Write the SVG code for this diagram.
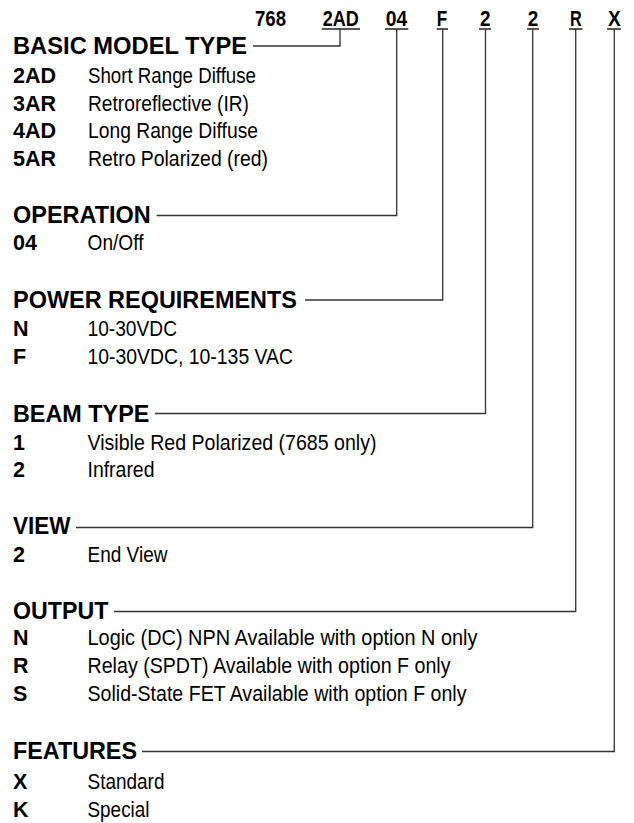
<svg xmlns="http://www.w3.org/2000/svg" width="634" height="823" viewBox="0 0 634 823">
<style>
text{font-family:"Liberation Sans",Arial,sans-serif;fill:#000}
.code{font-weight:bold;font-size:22.5px}
.hdr{font-weight:bold;font-size:23px}
.opt{font-weight:bold;font-size:21.5px}
.desc{font-size:22.5px}
.ul{stroke:#222;stroke-width:1.4;fill:none}
.conn{stroke:#333;stroke-width:1.3;fill:none}
</style>
<rect width="634" height="823" fill="#fff"/>
<g id="model-code">
<text class="code" x="255" y="26" textLength="31" lengthAdjust="spacingAndGlyphs">768</text>
<text class="code" x="322.7" y="26" textLength="36" lengthAdjust="spacingAndGlyphs">2AD</text>
<text class="code" x="385.7" y="26" textLength="21.5" lengthAdjust="spacingAndGlyphs">04</text>
<text class="code" x="436.7" y="26" textLength="10.5" lengthAdjust="spacingAndGlyphs">F</text>
<text class="code" x="480" y="26" textLength="10.5" lengthAdjust="spacingAndGlyphs">2</text>
<text class="code" x="527.7" y="26" textLength="10.5" lengthAdjust="spacingAndGlyphs">2</text>
<text class="code" x="570" y="26" textLength="11.7" lengthAdjust="spacingAndGlyphs">R</text>
<text class="code" x="608" y="26" textLength="12.7" lengthAdjust="spacingAndGlyphs">X</text>
<path class="ul" d="M321.7 29H360M385 29H408.3M436.7 29H448M479 29H491M527 29H539M569 29H582.5M607 29H621"/>
</g>
<g id="basic-model-type">
<text class="hdr" x="13" y="54" textLength="234" lengthAdjust="spacingAndGlyphs">BASIC MODEL TYPE</text>
<text class="opt" x="13" y="83">2AD</text><text class="desc" x="88" y="83" textLength="168" lengthAdjust="spacingAndGlyphs">Short Range Diffuse</text>
<text class="opt" x="13" y="110.7">3AR</text><text class="desc" x="88" y="110.7" textLength="161" lengthAdjust="spacingAndGlyphs">Retroreflective (IR)</text>
<text class="opt" x="13" y="138">4AD</text><text class="desc" x="88" y="138" textLength="170" lengthAdjust="spacingAndGlyphs">Long Range Diffuse</text>
<text class="opt" x="13" y="165.5">5AR</text><text class="desc" x="88" y="165.5" textLength="180" lengthAdjust="spacingAndGlyphs">Retro Polarized (red)</text>
</g>
<g id="operation">
<text class="hdr" x="13" y="223" textLength="137.7" lengthAdjust="spacingAndGlyphs">OPERATION</text>
<text class="opt" x="13" y="250">04</text><text class="desc" x="87.5" y="250" textLength="56" lengthAdjust="spacingAndGlyphs">On/Off</text>
</g>
<g id="power-requirements">
<text class="hdr" x="13" y="307.5" textLength="284" lengthAdjust="spacingAndGlyphs">POWER REQUIREMENTS</text>
<text class="opt" x="13" y="335.5">N</text><text class="desc" x="87.5" y="335.5" textLength="89.5" lengthAdjust="spacingAndGlyphs">10-30VDC</text>
<text class="opt" x="13" y="363.5">F</text><text class="desc" x="87.5" y="363.5" textLength="205.5" lengthAdjust="spacingAndGlyphs">10-30VDC, 10-135 VAC</text>
</g>
<g id="beam-type">
<text class="hdr" x="13" y="422" textLength="136.3" lengthAdjust="spacingAndGlyphs">BEAM TYPE</text>
<text class="opt" x="13" y="450">1</text><text class="desc" x="87.5" y="450" textLength="289" lengthAdjust="spacingAndGlyphs">Visible Red Polarized (7685 only)</text>
<text class="opt" x="13" y="477">2</text><text class="desc" x="87.5" y="477" textLength="67" lengthAdjust="spacingAndGlyphs">Infrared</text>
</g>
<g id="view">
<text class="hdr" x="13" y="534" textLength="57.5" lengthAdjust="spacingAndGlyphs">VIEW</text>
<text class="opt" x="13" y="561.7">2</text><text class="desc" x="87.5" y="561.7" textLength="80" lengthAdjust="spacingAndGlyphs">End View</text>
</g>
<g id="output">
<text class="hdr" x="13" y="618.5" textLength="95.3" lengthAdjust="spacingAndGlyphs">OUTPUT</text>
<text class="opt" x="13" y="645">N</text><text class="desc" x="87.5" y="645" textLength="390" lengthAdjust="spacingAndGlyphs">Logic (DC) NPN Available with option N only</text>
<text class="opt" x="13" y="673">R</text><text class="desc" x="87.5" y="673" textLength="363" lengthAdjust="spacingAndGlyphs">Relay (SPDT) Available with option F only</text>
<text class="opt" x="13" y="701">S</text><text class="desc" x="87.5" y="701" textLength="379" lengthAdjust="spacingAndGlyphs">Solid-State FET Available with option F only</text>
</g>
<g id="features">
<text class="hdr" x="13" y="759" textLength="124" lengthAdjust="spacingAndGlyphs">FEATURES</text>
<text class="opt" x="13" y="789">X</text><text class="desc" x="87.5" y="789" textLength="77" lengthAdjust="spacingAndGlyphs">Standard</text>
<text class="opt" x="13" y="816.5">K</text><text class="desc" x="87.5" y="816.5" textLength="62" lengthAdjust="spacingAndGlyphs">Special</text>
</g>
<g id="connectors">
<path class="conn" d="M340 29V46H253"/>
<path class="conn" d="M396.7 29V215.5H156.7"/>
<path class="conn" d="M442.7 29V300H305"/>
<path class="conn" d="M485.5 29V413.5H155"/>
<path class="conn" d="M532.7 29V527.5H76"/>
<path class="conn" d="M575.7 29V611.5H114"/>
<path class="conn" d="M614.3 29V751.5H142"/>
</g>
</svg>
